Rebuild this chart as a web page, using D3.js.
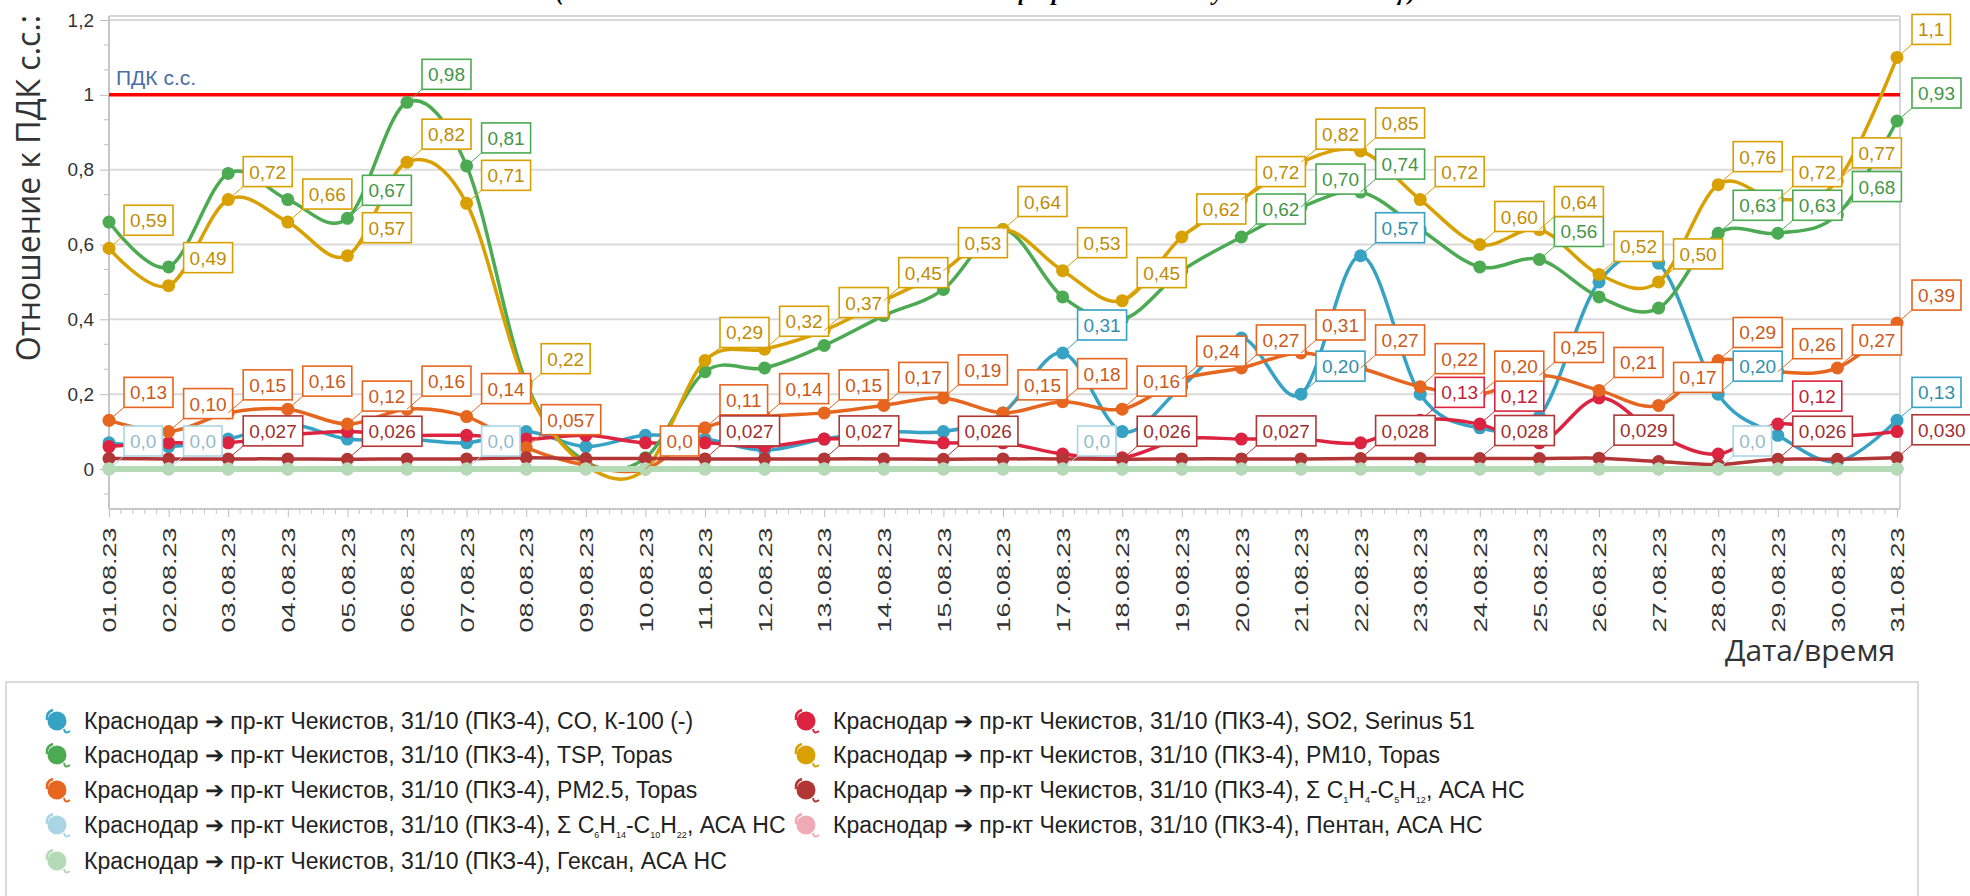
<!DOCTYPE html>
<html>
<head>
<meta charset="utf-8">
<script src="https://cdn.jsdelivr.net/npm/d3@7"></script>
<style>
  body { margin: 0; background: #fff; }
  svg { display: block; font-family: "Liberation Sans", Arial, sans-serif; }
</style>
</head>
<body>
<svg id="chart" width="1970" height="896"></svg>
<script>
// data
//====================
var days = d3.range(1, 32);
var dayLabels = days.map(d => (d < 10 ? "0" + d : "" + d) + ".08.23");
var yTicks = [0, 0.2, 0.4, 0.6, 0.8, 1, 1.2];
var pdkValue = 1;

var coValues   = [0.07, 0.06, 0.08, 0.12, 0.08, 0.08, 0.07, 0.10, 0.06, 0.09, 0.08, 0.05, 0.08, 0.10, 0.10, 0.15,
                  0.31, 0.10, 0.22, 0.35, 0.20, 0.57, 0.20, 0.11, 0.14, 0.50, 0.55, 0.20, 0.09, 0.02, 0.13];
var so2Values  = [0.06, 0.07, 0.07, 0.09, 0.10, 0.09, 0.09, 0.08, 0.09, 0.07, 0.07, 0.06, 0.08, 0.08, 0.07, 0.07,
                  0.04, 0.03, 0.08, 0.08, 0.08, 0.07, 0.13, 0.12, 0.07, 0.19, 0.09, 0.04, 0.12, 0.09, 0.10];
var tspValues  = [0.66, 0.54, 0.79, 0.72, 0.67, 0.98, 0.81, 0.23, 0.02, 0.03, 0.26, 0.27, 0.33, 0.41, 0.48, 0.64,
                  0.46, 0.40, 0.53, 0.62, 0.70, 0.74, 0.64, 0.54, 0.56, 0.46, 0.43, 0.63, 0.63, 0.68, 0.93];
var pm10Values = [0.59, 0.49, 0.72, 0.66, 0.57, 0.82, 0.71, 0.22, 0.01, 0.0, 0.29, 0.32, 0.37, 0.45, 0.53, 0.64,
                  0.53, 0.45, 0.62, 0.72, 0.82, 0.85, 0.72, 0.60, 0.64, 0.52, 0.50, 0.76, 0.72, 0.77, 1.1];
var pm25Values = [0.13, 0.10, 0.15, 0.16, 0.12, 0.16, 0.14, 0.057, 0.01, 0.0, 0.11, 0.14, 0.15, 0.17, 0.19, 0.15,
                  0.18, 0.16, 0.24, 0.27, 0.31, 0.27, 0.22, 0.20, 0.25, 0.21, 0.17, 0.29, 0.26, 0.27, 0.39];
var c1c5Values = [0.028, 0.027, 0.027, 0.027, 0.026, 0.027, 0.027, 0.030, 0.028, 0.028, 0.027, 0.027, 0.027, 0.027, 0.026, 0.027,
                  0.027, 0.026, 0.027, 0.027, 0.027, 0.028, 0.028, 0.028, 0.028, 0.029, 0.020, 0.012, 0.026, 0.026, 0.030];
var c6c10Values = days.map(() => 0);
var pentaneValues = days.map(() => 0);
var hexaneValues = days.map(() => 0);

// days that carry a value label
var coLabelDays   = [17, 21, 22, 28, 31];
var so2LabelDays  = [23, 24, 29];
var tspLabelDays  = [5, 6, 7, 20, 21, 22, 25, 28, 29, 30, 31];
var pm10LabelDays = [1, 2, 3, 4, 5, 6, 7, 8, 11, 12, 13, 14, 15, 16, 17, 18, 19, 20, 21, 22, 23, 24, 25, 26, 27, 28, 29, 30, 31];
var pm25LabelDays = [1, 2, 3, 4, 5, 6, 7, 8, 10, 11, 12, 13, 14, 15, 16, 17, 18, 19, 20, 21, 22, 23, 24, 25, 26, 27, 28, 29, 30, 31];
var c1c5LabelDays = [3, 5, 11, 13, 15, 18, 20, 22, 24, 26, 29, 31];
var c6c10LabelDays = [1, 2, 7, 17, 28];

var prefix = "Краснодар ➔ пр-кт Чекистов, 31/10 (ПКЗ-4), ";
var seriesNames = ["CO, К-100 (-)", "SO2, Serinus 51", "TSP, Topas", "PM10, Topas", "PM2.5, Topas",
                   "Σ C₁H₄-C₅H₁₂, АСА НС", "Σ C₆H₁₄-C₁₀H₂₂, АСА НС", "Пентан, АСА НС", "Гексан, АСА НС"];
var seriesColors = ["#36a2c4", "#dc2440", "#4caa52", "#d9a002", "#e6661f", "#b23636", "#a9d5e4", "#f0aab6", "#b4dbb5"];

var seriesValues = [coValues, so2Values, tspValues, pm10Values, pm25Values, c1c5Values, c6c10Values, pentaneValues, hexaneValues];
var seriesLabelDays = [coLabelDays, so2LabelDays, tspLabelDays, pm10LabelDays, pm25LabelDays, c1c5LabelDays, c6c10LabelDays, [], []];

var series = seriesNames.map((n, i) => ({
    name: prefix + n,
    color: seriesColors[i],
    values: seriesValues[i],
    labelDays: seriesLabelDays[i]
}));

// chart
//====================
var svg = d3.select("#chart");

var plot = { left: 109, right: 1900, top: 16, bottom: 509 };

var x = d3.scaleLinear().domain([1, 31]).range([plot.left, 1897]);
var y = d3.scaleLinear().domain([0, 1.2]).range([469, 20]);

// title line, cut off at the top edge like in the source picture
svg.append("text")
    .attr("x", 986)
    .attr("y", 0)
    .attr("text-anchor", "middle")
    .attr("textLength", 860)
    .style("font-family", "'Liberation Serif', serif")
    .style("font-weight", "bold")
    .style("font-style", "italic")
    .style("font-size", "24px")
    .text("(Показатели качества атмосферного воздуха за месяц)");

// gridlines
svg.append("g")
    .selectAll("line")
    .data(yTicks)
    .enter()
    .append("line")
    .attr("x1", plot.left)
    .attr("x2", plot.right)
    .attr("y1", d => y(d))
    .attr("y2", d => y(d))
    .attr("stroke", "#dadada")
    .attr("stroke-width", 2);

// frame: top double line + right border
svg.append("line")
    .attr("x1", plot.left).attr("x2", plot.right)
    .attr("y1", plot.top).attr("y2", plot.top)
    .attr("stroke", "#d6d6d6").attr("stroke-width", 2);
svg.append("line")
    .attr("x1", plot.right).attr("x2", plot.right)
    .attr("y1", plot.top).attr("y2", plot.bottom)
    .attr("stroke", "#d6d6d6").attr("stroke-width", 2);

// y axis
var yAxis = d3.axisLeft(y)
    .tickValues(yTicks)
    .tickSize(9)
    .tickPadding(6)
    .tickFormat(d => String(d).replace(".", ","));
var yAxisG = svg.append("g")
    .attr("transform", `translate(${plot.left},0)`)
    .call(yAxis);
yAxisG.select(".domain").remove();
yAxisG.selectAll("line").attr("stroke", "#bdbdbd");
yAxisG.selectAll("text")
    .attr("fill", "#333")
    .style("font-size", "19px")
    .style("font-family", "'Liberation Sans', Arial, sans-serif");

var yMinor = d3.range(-0.2, 1.21, 0.2 / 3).filter(v => v > -0.107 && Math.abs(v * 5 - Math.round(v * 5)) > 0.01);
svg.append("g")
    .selectAll("line")
    .data(yMinor)
    .enter()
    .append("line")
    .attr("x1", plot.left - 5).attr("x2", plot.left)
    .attr("y1", d => y(d)).attr("y2", d => y(d))
    .attr("stroke", "#bdbdbd");

svg.append("line")
    .attr("x1", plot.left).attr("x2", plot.left)
    .attr("y1", plot.top).attr("y2", plot.bottom)
    .attr("stroke", "#c6c6c6").attr("stroke-width", 2);

// x axis
var xAxis = d3.axisBottom(x)
    .tickValues(days)
    .tickSize(8)
    .tickFormat((d, i) => dayLabels[i]);
var xAxisG = svg.append("g")
    .attr("transform", `translate(0,${plot.bottom})`)
    .call(xAxis);
xAxisG.select(".domain").remove();
xAxisG.selectAll("line").attr("stroke", "#bdbdbd");
// labels are drawn stretched along their length, as in the source
xAxisG.selectAll("text")
    .attr("fill", "#333")
    .attr("transform", "rotate(-90) scale(1.42,1)")
    .attr("text-anchor", "end")
    .attr("x", -13)
    .attr("y", 0)
    .attr("dy", "0.35em")
    .style("font-size", "19px")
    .style("font-family", "'Liberation Sans', Arial, sans-serif");

var xMinor = [];
days.slice(0, -1).forEach(d => { for (var k = 1; k < 5; k++) xMinor.push(d + k / 5); });
svg.append("g")
    .selectAll("line")
    .data(xMinor)
    .enter()
    .append("line")
    .attr("x1", d => x(d)).attr("x2", d => x(d))
    .attr("y1", plot.bottom).attr("y2", plot.bottom + 5)
    .attr("stroke", "#c6c6c6");

svg.append("line")
    .attr("x1", plot.left).attr("x2", plot.right)
    .attr("y1", plot.bottom).attr("y2", plot.bottom)
    .attr("stroke", "#c6c6c6").attr("stroke-width", 2);

// axis titles
svg.append("text")
    .attr("transform", "translate(40,188) rotate(-90)")
    .attr("text-anchor", "middle")
    .attr("fill", "#333")
    .style("font-family", "'Open Sans', sans-serif")
    .style("font-size", "32px")
    .text("Отношение к ПДК с.с.:");

svg.append("text")
    .attr("x", 1895)
    .attr("y", 661)
    .attr("text-anchor", "end")
    .attr("fill", "#333")
    .style("font-family", "'Open Sans', sans-serif")
    .style("font-size", "30px")
    .text("Дата/время");

// PDK line
svg.append("line")
    .attr("x1", plot.left).attr("x2", plot.right)
    .attr("y1", y(pdkValue)).attr("y2", y(pdkValue))
    .attr("stroke", "#ff0000")
    .attr("stroke-width", 3.5);
svg.append("text")
    .attr("x", plot.left + 7)
    .attr("y", y(pdkValue) - 10)
    .attr("fill", "#4a6ea3")
    .style("font-size", "21px")
    .text("ПДК с.с.");

// series lines + markers
var line = d3.line()
    .x((d, i) => x(days[i]))
    .y(d => y(d))
    .curve(d3.curveCardinal.tension(0));

var seriesG = svg.append("g")
    .selectAll("g")
    .data(series)
    .enter()
    .append("g");

seriesG.append("path")
    .attr("d", s => line(s.values))
    .attr("fill", "none")
    .attr("stroke", s => s.color)
    .attr("stroke-width", (s, i) => i === series.length - 1 ? 6 : 3.5);

seriesG.selectAll("circle")
    .data(s => s.values.map((v, i) => ({ v: v, d: days[i], c: s.color })))
    .enter()
    .append("circle")
    .attr("cx", p => x(p.d))
    .attr("cy", p => y(p.v))
    .attr("r", 6.5)
    .attr("fill", p => p.c);

// value labels
function fmt(v) {
    return (v === 0 ? "0.0" : v.toPrecision(2)).replace(".", ",");
}

var labelG = svg.append("g");
series.forEach(function (s) {
    s.labelDays.forEach(function (d) {
        var v = s.values[d - 1];
        var px = x(d), py = y(v);
        var bx = px + 15, by = py - 13;
        var g = labelG.append("g");
        g.append("line")
            .attr("x1", px).attr("y1", py)
            .attr("x2", bx).attr("y2", by)
            .attr("stroke", s.color).attr("stroke-width", 1);
        var rect = g.append("rect")
            .attr("fill", "#fff")
            .attr("stroke", s.color)
            .attr("stroke-width", 1.6);
        var t = g.append("text")
            .attr("x", bx + 6)
            .attr("y", by - 8)
            .attr("fill", d3.color(s.color).darker(0.35))
            .style("font-size", "19px")
            .text(fmt(v));
        var w = t.node().getComputedTextLength();
        rect.attr("x", bx).attr("y", by - 30).attr("width", w + 12).attr("height", 30);
    });
});

// legend
svg.append("rect")
    .attr("x", 6).attr("y", 682)
    .attr("width", 1912).attr("height", 260)
    .attr("fill", "#fff")
    .attr("stroke", "#d0d0d0")
    .attr("stroke-width", 1.5);

var legendCols = [57, 806];
var legendRows = [721, 755, 790, 825, 861];

var legendItem = svg.append("g")
    .selectAll("g")
    .data(series)
    .enter()
    .append("g")
    .attr("transform", (s, i) => `translate(${legendCols[i % 2]},${legendRows[Math.floor(i / 2)]})`);

legendItem.append("circle")
    .attr("r", 9.5)
    .attr("fill", s => s.color);
legendItem.append("path")
    .attr("d", "M-10,-1 Q-11,-9 -4,-11")
    .attr("fill", "none")
    .attr("stroke", s => s.color)
    .attr("stroke-width", 2.5);
legendItem.append("path")
    .attr("d", "M7,8 Q8,14 13,10")
    .attr("fill", "none")
    .attr("stroke", s => s.color)
    .attr("stroke-width", 2);

// legend text, subscripts drawn small and lowered
var subDigits = "₀₁₂₃₄₅₆₇₈₉";
legendItem.append("text")
    .attr("x", 27)
    .attr("dy", "0.35em")
    .attr("fill", "#222")
    .style("font-size", "23px")
    .each(function (s) {
        var t = d3.select(this);
        var parts = [];
        Array.from(s.name).forEach(function (ch) {
            var sub = subDigits.indexOf(ch) >= 0;
            var c = sub ? String(subDigits.indexOf(ch)) : ch;
            if (parts.length && parts[parts.length - 1].sub === sub) parts[parts.length - 1].txt += c;
            else parts.push({ sub: sub, txt: c });
        });
        var shifted = false;
        parts.forEach(function (p) {
            var ts = t.append("tspan").text(p.txt);
            if (p.sub) {
                ts.attr("dy", 5).style("font-size", "9px");
                shifted = true;
            } else if (shifted) {
                ts.attr("dy", -5);
                shifted = false;
            }
        });
    });
</script>
</body>
</html>
